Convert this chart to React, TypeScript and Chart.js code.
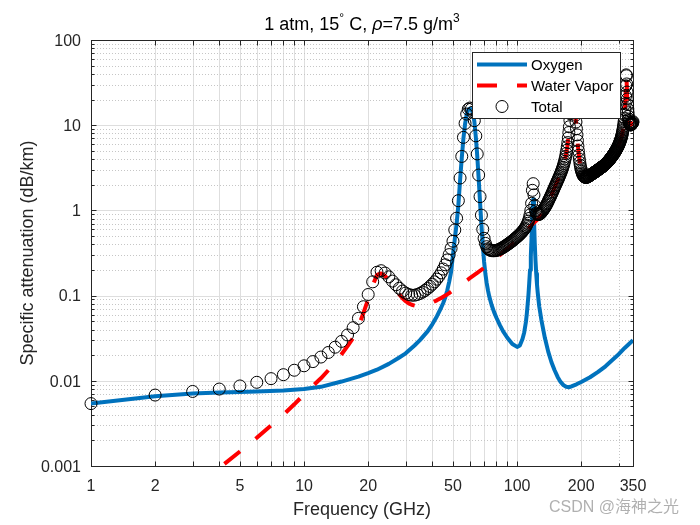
import React, { useEffect, useRef } from "react";
import { Chart, registerables } from "chart.js";

Chart.register(...registerables);

// ---------------- data ----------------
// Total specific attenuation (dB/km), sampled every 1 GHz from 1 to 350 GHz
const totalValues: number[] = [
  0.0054, 0.0068, 0.0075, 0.0080, 0.0087, 0.0096, 0.0106, 0.0118, 0.0133, 0.0150, // 1-10
  0.0168, 0.0190, 0.0215, 0.0248, 0.0290, 0.0345, 0.0420, 0.0540, 0.0740, 0.1030, // 11-20
  0.1450, 0.1880, 0.1960, 0.1840, 0.1660, 0.1480, 0.1340, 0.1220, 0.1130, 0.1070, // 21-30
  0.1030, 0.1010, 0.1010, 0.1030, 0.1060, 0.1100, 0.1150, 0.1210, 0.1280, 0.1360, // 31-40
  0.1450, 0.1560, 0.1690, 0.1850, 0.2050, 0.2300, 0.2620, 0.3030, 0.3580, 0.4350, // 41-50
  0.5900, 0.8100, 1.30, 2.40, 4.30, 7.20, 10.5, 13.5, 15.4, 15.9, // 51-60
  15.5, 14.2, 11.3, 7.5, 4.6, 2.6, 1.45, 0.88, 0.60, 0.47, // 61-70
  0.41, 0.375, 0.355, 0.345, 0.340, 0.337, 0.336, 0.336, 0.337, 0.339, // 71-80
  0.342, 0.346, 0.351, 0.356, 0.362, 0.368, 0.375, 0.382, 0.389, 0.397, // 81-90
  0.405, 0.413, 0.421, 0.430, 0.439, 0.448, 0.458, 0.468, 0.478, 0.489, // 91-100
  0.500, 0.512, 0.524, 0.537, 0.551, 0.566, 0.582, 0.600, 0.620, 0.644, // 101-110
  0.672, 0.706, 0.748, 0.805, 0.885, 1.00, 1.21, 1.72, 2.06, 1.52, // 111-120
  1.14, 0.99, 0.93, 0.905, 0.895, 0.895, 0.90, 0.91, 0.925, 0.945, // 121-130
  0.97, 0.995, 1.02, 1.05, 1.08, 1.11, 1.15, 1.19, 1.23, 1.28, // 131-140
  1.33, 1.38, 1.43, 1.48, 1.54, 1.60, 1.66, 1.73, 1.80, 1.87, // 141-150
  1.94, 2.01, 2.09, 2.17, 2.25, 2.33, 2.42, 2.51, 2.61, 2.71, // 151-160
  2.82, 2.94, 3.07, 3.21, 3.37, 3.55, 3.76, 4.01, 4.30, 4.65, // 161-170
  5.08, 5.60, 6.25, 7.10, 8.20, 9.60, 11.4, 13.6, 16.2, 19.0, // 171-180
  21.8, 23.9, 24.8, 24.0, 21.8, 18.8, 15.8, 13.1, 10.9, 9.1, // 181-190
  7.7, 6.6, 5.7, 5.0, 4.45, 4.0, 3.65, 3.37, 3.16, 3.00, // 191-200
  2.87, 2.76, 2.67, 2.60, 2.55, 2.51, 2.48, 2.46, 2.45, 2.44, // 201-210
  2.44, 2.45, 2.46, 2.47, 2.49, 2.51, 2.52, 2.54, 2.56, 2.58, // 211-220
  2.60, 2.62, 2.64, 2.66, 2.68, 2.70, 2.72, 2.74, 2.76, 2.78, // 221-230
  2.80, 2.82, 2.84, 2.86, 2.88, 2.90, 2.93, 2.95, 2.97, 2.99, // 231-240
  3.02, 3.04, 3.06, 3.08, 3.11, 3.13, 3.16, 3.18, 3.20, 3.22, // 241-250
  3.25, 3.27, 3.30, 3.32, 3.35, 3.38, 3.41, 3.44, 3.47, 3.50, // 251-260
  3.53, 3.57, 3.60, 3.64, 3.67, 3.71, 3.75, 3.79, 3.83, 3.87, // 261-270
  3.91, 3.96, 4.00, 4.05, 4.10, 4.15, 4.20, 4.25, 4.30, 4.36, // 271-280
  4.41, 4.47, 4.53, 4.59, 4.65, 4.72, 4.78, 4.85, 4.92, 4.99, // 281-290
  5.06, 5.14, 5.22, 5.30, 5.39, 5.48, 5.57, 5.67, 5.77, 5.88, // 291-300
  6.00, 6.12, 6.25, 6.39, 6.54, 6.70, 6.87, 7.06, 7.27, 7.50, // 301-310
  7.76, 8.05, 8.38, 8.75, 9.20, 9.70, 10.3, 11.1, 12.1, 13.4, // 311-320
  15.2, 17.8, 22.0, 29.0, 39.0, 38.0, 30.5, 24.5, 20.3, 17.5, // 321-330
  15.5, 14.0, 12.7, 11.8, 11.2, 10.8, 10.5, 10.3, 10.2, 10.1, // 331-340
  10.1, 10.1, 10.1, 10.2, 10.3, 10.4, 10.5, 10.6, 10.8, 11.0, // 341-350
];

// Oxygen specific attenuation (dB/km)
const oxygenFreq: number[] = [
  1, 2, 3, 4, 5, 6, 8, 10, 12, 15, 18, 20, 22, 25, 28, 30, 33, 35, 38, 40,
  42, 44, 45, 46, 47, 48, 49, 50, 51, 52, 53, 54, 55, 56, 57, 58, 59, 60, 61, 62,
  63, 64, 65, 66, 67, 68, 69, 70, 71, 72, 73, 74, 76, 78, 80, 83, 86, 90, 95, 100,
  103, 106, 108, 110, 111, 112, 113, 114, 115, 116, 117, 118, 119, 120, 121, 122, 123, 124, 125, 127,
  130, 135, 140, 145, 150, 155, 160, 165, 170, 175, 180, 190, 200, 220, 240, 260, 280, 300, 320, 340,
  350,
];
const oxygenValues: number[] = [
  0.0054, 0.0066, 0.0071, 0.0073, 0.0074, 0.0075, 0.0077, 0.0080, 0.0085, 0.0098, 0.0112, 0.0123, 0.0135, 0.0158, 0.0188, 0.021, 0.026, 0.030, 0.038, 0.046,
  0.057, 0.072, 0.082, 0.095, 0.115, 0.145, 0.19, 0.30, 0.46, 0.69, 1.15, 2.25, 4.15, 7.05, 10.35, 13.4, 15.2, 15.7, 15.3, 14.0,
  11.1, 7.3, 4.4, 2.4, 1.25, 0.68, 0.39, 0.25, 0.18, 0.14, 0.115, 0.098, 0.077, 0.064, 0.055, 0.045, 0.038, 0.032, 0.027, 0.025,
  0.026, 0.031, 0.037, 0.049, 0.06, 0.077, 0.10, 0.14, 0.20, 0.29, 0.50, 1.0, 1.35, 0.80, 0.42, 0.26, 0.18, 0.135, 0.108, 0.075,
  0.052, 0.032, 0.022, 0.0165, 0.0133, 0.0111, 0.0097, 0.0089, 0.0085, 0.0084, 0.0086, 0.0091, 0.0097, 0.011, 0.0127, 0.0148, 0.0175, 0.0205, 0.0243, 0.028,
  0.030,
];

// Water vapour specific attenuation (dB/km)
const waterFreq: number[] = [
  3, 4, 5, 6, 7, 8, 9, 10, 11, 12, 13, 14, 15, 16, 17, 18, 19, 20, 21, 22,
  23, 24, 25, 26, 27, 28, 29, 30, 31, 32, 34, 36, 38, 40, 42, 44, 46, 48, 50, 55,
  60, 65, 70, 75, 80, 85, 90, 95, 100, 105, 110, 115, 120, 125, 130, 135, 140, 145, 150, 155,
  160, 163, 166, 168, 170, 172, 174, 175, 176, 177, 178, 179, 180, 181, 182, 183, 184, 185, 186, 187,
  188, 189, 190, 191, 192, 193, 194, 196, 198, 200, 205, 210, 215, 220, 230, 240, 250, 260, 270, 280,
  290, 295, 300, 305, 310, 313, 315, 317, 318, 319, 320, 321, 322, 323, 324, 325, 326, 327, 328, 329,
  330, 331, 332, 333, 334, 335, 337, 340, 343, 346, 350,
];
const waterValues: number[] = [
  0.00055, 0.00095, 0.00148, 0.00215, 0.0030, 0.0040, 0.0053, 0.0069, 0.0087, 0.0107, 0.0133, 0.0165, 0.0205, 0.0255, 0.032, 0.043, 0.0625, 0.0905, 0.132, 0.175,
  0.182, 0.170, 0.150, 0.131, 0.116, 0.103, 0.093, 0.086, 0.081, 0.078, 0.075, 0.076, 0.079, 0.083, 0.088, 0.094, 0.100, 0.107, 0.115, 0.137,
  0.160, 0.185, 0.212, 0.243, 0.277, 0.314, 0.355, 0.40, 0.455, 0.51, 0.575, 0.645, 0.715, 0.785, 0.89, 1.05, 1.26, 1.52, 1.86, 2.24,
  2.70, 3.06, 3.54, 4.0, 4.64, 5.59, 7.09, 8.19, 9.59, 11.4, 13.6, 16.2, 19.0, 21.8, 23.9, 24.8, 24.0, 21.8, 18.8, 15.8,
  13.1, 10.9, 9.1, 7.7, 6.6, 5.7, 5.0, 4.0, 3.36, 2.99, 2.54, 2.43, 2.48, 2.57, 2.77, 2.98, 3.21, 3.49, 3.86, 4.34,
  4.97, 5.37, 5.86, 6.52, 7.48, 8.36, 9.18, 10.3, 11.1, 12.1, 13.4, 15.2, 17.8, 22.0, 29.0, 39.0, 38.0, 30.5, 24.5, 20.3,
  17.5, 15.5, 14.0, 12.7, 11.8, 11.2, 10.5, 10.1, 10.1, 10.4, 11.0,
];

const seriesNames = ["Oxygen", "Water Vapor", "Total"];

const xTickValues = [1, 2, 5, 10, 20, 50, 100, 200, 350];
const xTickLabels = ["1", "2", "5", "10", "20", "50", "100", "200", "350"];
const xMajorLines = [1, 2, 3, 4, 5, 6, 7, 8, 9, 10, 20, 30, 40, 50, 60, 70, 80, 90, 100, 200, 350];
const xMinorLines = [300];
const yTickValues = [0.001, 0.01, 0.1, 1, 10, 100];
const yTickLabels = ["0.001", "0.01", "0.1", "1", "10", "100"];
const yMinorMultipliers = [2, 3, 4, 5, 6, 7, 8, 9];

const titleParts = [
  { text: "1 atm, 15", kind: "n" },
  { text: "°", kind: "sup" },
  { text: " C, ", kind: "n" },
  { text: "ρ", kind: "i" },
  { text: "=7.5 g/m", kind: "n" },
  { text: "3", kind: "sup" },
];
const xTitle = "Frequency (GHz)";
const yTitle = "Specific attenuation (dB/km)";
const watermark = "CSDN @海神之光";

// ---------------- styling ----------------
const FONT = '"Liberation Sans", Arial, Helvetica, sans-serif';
const AXIS = "#262626";
const BLUE = "#0072bd";
const RED = "#ff0000";

function line(ctx: CanvasRenderingContext2D, x1: number, y1: number, x2: number, y2: number) {
  ctx.beginPath();
  ctx.moveTo(x1, y1);
  ctx.lineTo(x2, y2);
  ctx.stroke();
}

const decorPlugin = {
  id: "matlabDecor",
  beforeDatasetsDraw(chart: any) {
    const ctx: CanvasRenderingContext2D = chart.ctx;
    const { left, right, top, bottom } = chart.chartArea;
    const xs = chart.scales.x;
    const ys = chart.scales.y;
    ctx.save();
    ctx.fillStyle = "#ffffff";
    ctx.fillRect(left, top, right - left, bottom - top);
    ctx.lineWidth = 1;
    // major grid
    ctx.strokeStyle = "#dedede";
    for (const v of xMajorLines) {
      const x = Math.round(xs.getPixelForValue(v)) + 0.5;
      line(ctx, x, top, x, bottom);
    }
    for (const v of yTickValues) {
      const y = Math.round(ys.getPixelForValue(v)) + 0.5;
      line(ctx, left, y, right, y);
    }
    // minor grid (dotted)
    ctx.strokeStyle = "#c6c6c6";
    ctx.setLineDash([1, 2]);
    for (const v of xMinorLines) {
      const x = Math.round(xs.getPixelForValue(v)) + 0.5;
      line(ctx, x, top, x, bottom);
    }
    for (let d = 0; d < yTickValues.length - 1; d++) {
      for (const m of yMinorMultipliers) {
        const y = Math.round(ys.getPixelForValue(yTickValues[d] * m)) + 0.5;
        line(ctx, left, y, right, y);
      }
    }
    ctx.setLineDash([]);
    // box
    ctx.strokeStyle = AXIS;
    const L = Math.round(left) + 0.5;
    const R = Math.round(right) + 0.5;
    const T = Math.round(top) + 0.5;
    const B = Math.round(bottom) + 0.5;
    ctx.strokeRect(L, T, R - L, B - T);
    // ticks
    for (const v of xMajorLines) {
      const x = Math.round(xs.getPixelForValue(v)) + 0.5;
      line(ctx, x, B, x, B - 5);
      line(ctx, x, T, x, T + 5);
    }
    for (const v of xMinorLines) {
      const x = Math.round(xs.getPixelForValue(v)) + 0.5;
      line(ctx, x, B, x, B - 3);
      line(ctx, x, T, x, T + 3);
    }
    for (const v of yTickValues) {
      const y = Math.round(ys.getPixelForValue(v)) + 0.5;
      line(ctx, L, y, L + 5, y);
      line(ctx, R, y, R - 5, y);
    }
    for (let d = 0; d < yTickValues.length - 1; d++) {
      for (const m of yMinorMultipliers) {
        const y = Math.round(ys.getPixelForValue(yTickValues[d] * m)) + 0.5;
        line(ctx, L, y, L + 3, y);
        line(ctx, R, y, R - 3, y);
      }
    }
    ctx.restore();
  },
  afterDatasetsDraw(chart: any) {
    const ctx: CanvasRenderingContext2D = chart.ctx;
    const { left, right, top, bottom } = chart.chartArea;
    const xs = chart.scales.x;
    const ys = chart.scales.y;
    ctx.save();

    // legend
    const lx = 472, ly = 52, lw = 148, lh = 66;
    ctx.fillStyle = "#ffffff";
    ctx.fillRect(lx, ly, lw, lh);
    ctx.strokeStyle = AXIS;
    ctx.lineWidth = 1;
    ctx.strokeRect(lx + 0.5, ly + 0.5, lw, lh);
    const rows = [64.5, 85.5, 106.5];
    ctx.lineCap = "butt";
    ctx.strokeStyle = BLUE;
    ctx.lineWidth = 4;
    line(ctx, 477, rows[0], 527, rows[0]);
    ctx.strokeStyle = RED;
    ctx.setLineDash([20, 20]);
    line(ctx, 477, rows[1], 527, rows[1]);
    ctx.setLineDash([]);
    ctx.strokeStyle = "#000000";
    ctx.lineWidth = 1;
    ctx.beginPath();
    ctx.arc(502, rows[2], 6, 0, Math.PI * 2);
    ctx.stroke();
    ctx.fillStyle = "#000000";
    ctx.font = `15px ${FONT}`;
    ctx.textAlign = "left";
    ctx.textBaseline = "alphabetic";
    seriesNames.forEach((n, i) => ctx.fillText(n, 531, rows[i] + 5.4));

    // tick labels
    ctx.fillStyle = AXIS;
    ctx.font = `16px ${FONT}`;
    ctx.textAlign = "center";
    xTickValues.forEach((v, i) => {
      ctx.fillText(xTickLabels[i], xs.getPixelForValue(v), 491);
    });
    ctx.textAlign = "right";
    yTickValues.forEach((v, i) => {
      ctx.fillText(yTickLabels[i], 81, ys.getPixelForValue(v) + 5.7);
    });

    // axis titles
    const cx = (left + right) / 2;
    const cy = (top + bottom) / 2;
    ctx.font = `18px ${FONT}`;
    ctx.textAlign = "center";
    ctx.fillText(xTitle, cx, 514.5);
    ctx.save();
    ctx.translate(33, cy);
    ctx.rotate(-Math.PI / 2);
    ctx.fillText(yTitle, 0, 0);
    ctx.restore();

    // title
    const fontFor = (k: string) =>
      k === "sup" ? `12px ${FONT}` : k === "i" ? `italic 18px ${FONT}` : `18px ${FONT}`;
    let total = 0;
    const widths = titleParts.map((p) => {
      ctx.font = fontFor(p.kind);
      const w = ctx.measureText(p.text).width;
      total += w;
      return w;
    });
    let tx = cx - total / 2;
    ctx.fillStyle = "#000000";
    ctx.textAlign = "left";
    titleParts.forEach((p, i) => {
      ctx.font = fontFor(p.kind);
      ctx.fillText(p.text, tx, p.kind === "sup" ? 22 : 30);
      tx += widths[i];
    });

    // watermark
    ctx.font = `16px ${FONT}, "Noto Sans CJK SC"`;
    ctx.fillStyle = "rgba(150,150,150,0.75)";
    ctx.textAlign = "left";
    ctx.fillText(watermark, 549, 512);

    ctx.restore();
  },
};

export default function App() {
  const ref = useRef<HTMLCanvasElement | null>(null);

  useEffect(() => {
    if (!ref.current) return;
    const totalPts = totalValues.map((v, i) => ({ x: i + 1, y: v }));
    const oxyPts = oxygenFreq.map((f, i) => ({ x: f, y: oxygenValues[i] }));
    const waterPts = waterFreq.map((f, i) => ({ x: f, y: waterValues[i] }));

    const chart = new Chart(ref.current, {
      type: "line",
      data: {
        datasets: [
          {
            label: seriesNames[2],
            data: totalPts,
            showLine: false,
            pointStyle: "circle",
            pointRadius: 6,
            pointBorderWidth: 1,
            pointBorderColor: "#000000",
            pointBackgroundColor: "rgba(0,0,0,0)",
            borderColor: "#000000",
            order: 0,
            clip: false as any,
          },
          {
            label: seriesNames[1],
            data: waterPts,
            borderColor: RED,
            borderWidth: 4,
            borderDash: [20, 20],
            borderCapStyle: "butt",
            borderJoinStyle: "round",
            pointRadius: 0,
            tension: 0,
            fill: false,
            order: 1,
            clip: 0 as any,
          },
          {
            label: seriesNames[0],
            data: oxyPts,
            borderColor: BLUE,
            borderWidth: 4,
            borderJoinStyle: "round",
            pointRadius: 0,
            tension: 0,
            fill: false,
            order: 2,
            clip: 0 as any,
          },
        ],
      },
      options: {
        responsive: false,
        animation: false,
        events: [],
        layout: { padding: { left: 91, right: 67, top: 40, bottom: 59 } },
        scales: {
          x: { type: "logarithmic", min: 1, max: 350, display: false },
          y: { type: "logarithmic", min: 0.001, max: 100, display: false },
        },
        plugins: {
          legend: { display: false },
          title: { display: false },
          tooltip: { enabled: false },
        },
      },
      plugins: [decorPlugin],
    });
    return () => chart.destroy();
  }, []);

  return (
    <div style={{ position: "absolute", left: 0, top: 0, width: 700, height: 525, background: "#ffffff" }}>
      <canvas ref={ref} width={700} height={525} style={{ display: "block" }} />
    </div>
  );
}
